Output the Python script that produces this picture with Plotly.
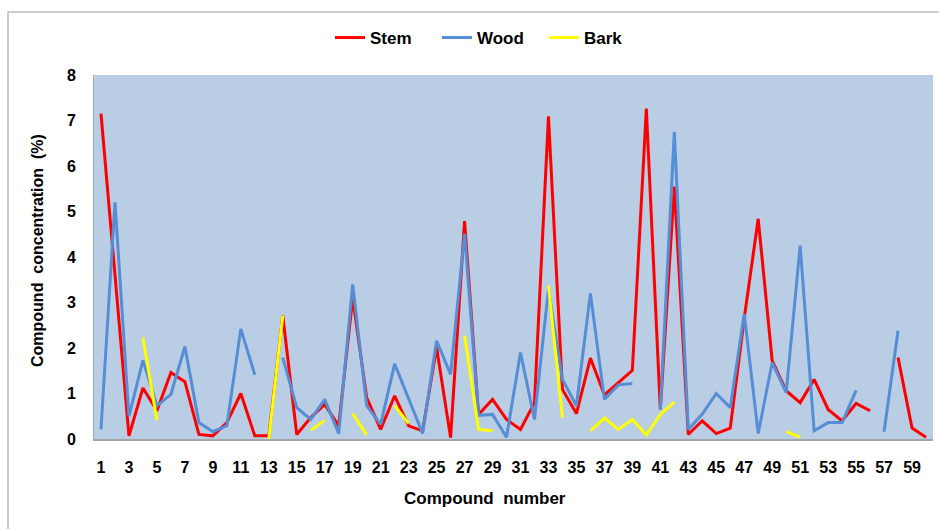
import plotly.graph_objects as go

compounds = list(range(1, 61))
tick_labels = [str(i) for i in range(1, 60, 2)]

stem = [7.15, 3.6, 0.07, 1.12, 0.62, 1.46, 1.26, 0.10, 0.07, 0.36,
        1.0, 0.07, 0.07, 2.71, 0.10, 0.47, 0.76, 0.29, 3.1, 0.91,
        0.21, 0.95, 0.29, 0.18, 2.01, 0.03, 4.79, 0.54, 0.87, 0.43,
        0.21, 0.80, 7.09, 1.09, 0.56, 1.78, 0.97, 1.24, 1.51, 7.26,
        0.65, 5.55, 0.10, 0.40, 0.12, 0.24, 2.65, 4.84, 1.72, 1.06,
        0.80, 1.31, 0.65, 0.40, 0.78, 0.62, None, 1.79, 0.24, 0.04]

wood = [0.21, 5.2, 0.5, 1.73, 0.73, 0.98, 2.03, 0.36, 0.16, 0.29,
        2.42, 1.41, None, 1.79, 0.69, 0.43, 0.87, 0.12, 3.4, 0.73,
        0.32, 1.65, 0.87, 0.12, 2.16, 1.42, 4.51, 0.52, 0.54, 0.04,
        1.90, 0.43, 3.30, 1.31, 0.73, 3.20, 0.87, 1.19, 1.22, None,
        0.65, 6.75, 0.21, 0.55, 1.00, 0.69, 2.75, 0.12, 1.68, 1.02,
        4.25, 0.18, 0.36, 0.36, 1.07, None, 0.16, 2.38, None, None]

bark = [None, None, None, 2.23, 0.41, None, None, None, None, None,
        None, None, 0.0, 2.71, None, 0.19, 0.41, None, 0.56, 0.09,
        None, 0.73, 0.34, None, None, None, 2.27, 0.21, 0.18, None,
        None, None, 3.37, 0.47, None, 0.18, 0.46, 0.21, 0.43, 0.09,
        0.54, 0.81, None, None, None, None, None, None, None, 0.16,
        0.04, None, None, None, None, None, None, None, None, None]

series = [("Stem", stem, "#FF0000"), ("Wood", wood, "#558ED5"), ("Bark", bark, "#FFFF00")]

fig = go.Figure()
for name, vals, col in series:
    fig.add_trace(go.Scatter(x=compounds, y=vals, name=name, mode="lines",
                             line=dict(color=col, width=3), connectgaps=False))

W, H = 939, 529
L, R, T, B = 94, 6, 75, 90
pw, ph = W - L - R, H - T - B

def px_x(x):
    return (x - L) / pw

def px_y(y):
    return (H - B - y) / ph

bold = dict(family="Liberation Sans, Arial, sans-serif", color="black", weight="bold")

fig.update_layout(
    width=W, height=H,
    margin=dict(l=L, r=R, t=T, b=B, autoexpand=False),
    paper_bgcolor="white",
    plot_bgcolor="#B9CDE5",
    showlegend=True,
    legend=dict(orientation="h", x=px_x(330), y=px_y(38), xanchor="left", yanchor="middle",
                font=dict(size=17, **bold), entrywidth=62, entrywidthmode="pixels",
                tracegroupgap=0, bgcolor="rgba(0,0,0,0)"),
    xaxis=dict(range=[0.5, 60.5], tickmode="array", tickvals=list(range(1, 60, 2)),
               ticktext=tick_labels, showgrid=False, zeroline=False,
               showline=True, linecolor="#A6A6A6", linewidth=2, ticks="",
               ticklabelstandoff=13, tickfont=dict(size=16, **bold)),
    yaxis=dict(range=[0, 8], dtick=1, showgrid=False, zeroline=False,
               showline=True, linecolor="#A6A6A6", linewidth=1, ticks="",
               ticklabelstandoff=14, tickfont=dict(size=16, **bold)),
    shapes=[dict(type="rect", xref="paper", yref="paper",
                 x0=px_x(8), x1=px_x(W + 20), y0=px_y(H + 20), y1=px_y(12),
                 line=dict(color="#BDBDBD", width=1.5), fillcolor="rgba(0,0,0,0)", layer="below")],
    annotations=[
        dict(text="Compound  number", xref="paper", yref="paper", x=px_x(485), y=px_y(498),
             xanchor="center", yanchor="middle", showarrow=False, font=dict(size=17, **bold)),
        dict(text="Compound  concentration  (%)", xref="paper", yref="paper", x=px_x(38), y=px_y(251),
             xanchor="center", yanchor="middle", showarrow=False, textangle=-90,
             font=dict(size=16, **bold)),
    ],
)

fig.write_html("out.html", config={"displayModeBar": False},
               post_script="document.body.style.margin='0';")
